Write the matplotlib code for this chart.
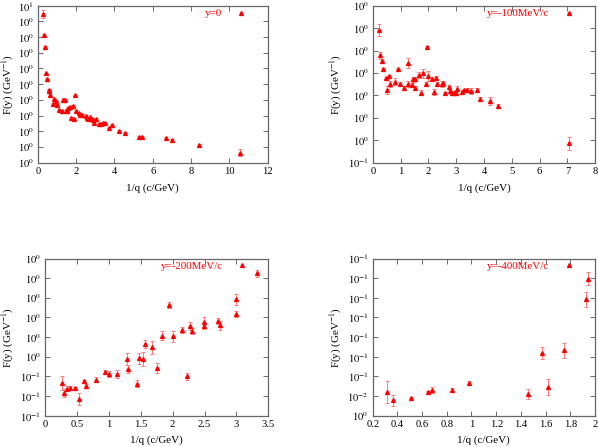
import matplotlib
matplotlib.use("Agg")
import matplotlib.pyplot as plt
from matplotlib.lines import Line2D

plt.rcParams['font.family'] = ['Liberation Serif', 'DejaVu Serif']
plt.rcParams['mathtext.fontset'] = 'stix'

# ---------------- data ----------------
# panel 1 : y=0
x1 = [0.29, 0.32, 0.36, 0.45, 0.48, 0.57, 0.60, 0.65, 0.79, 0.86, 0.93, 0.99, 1.12, 1.26, 1.30,
      1.40, 1.45, 1.50, 1.55, 1.59, 1.66, 1.73, 1.82, 1.91, 1.93, 2.01, 2.13, 2.22, 2.29, 2.50,
      2.55, 2.60, 2.74, 2.81, 2.86, 2.95, 3.04, 3.21, 3.30, 3.40, 3.53, 3.72, 3.87, 4.24, 4.54,
      5.30, 5.42, 6.71, 7.02, 8.43, 10.57]
y1 = [9.47, 8.13, 7.35, 5.69, 5.35, 4.63, 4.55, 4.31, 3.76, 4.08, 3.95, 3.69, 3.36, 3.27, 3.99,
      4.00, 3.30, 3.38, 3.27, 3.51, 3.52, 2.85, 3.61, 2.81, 4.29, 3.30, 3.14, 3.07, 3.07, 2.97,
      2.85, 2.77, 2.89, 2.78, 2.72, 2.54, 2.77, 2.47, 2.47, 2.55, 2.51, 2.23, 2.42, 2.04, 1.91,
      1.64, 1.64, 1.59, 1.42, 1.11, 0.64]
e1 = [0.27, 0.05, 0.08, 0.05, 0.04, 0.06, 0.12, 0.08, 0.05, 0.06, 0.05, 0.05, 0.05, 0.06, 0.15,
      0.06, 0.06, 0.05, 0.06, 0.05, 0.05, 0.05, 0.06, 0.04, 0.05, 0.05, 0.05, 0.06, 0.05, 0.05,
      0.05, 0.04, 0.05, 0.04, 0.04, 0.04, 0.05, 0.04, 0.04, 0.04, 0.04, 0.04, 0.04, 0.04, 0.04,
      0.04, 0.04, 0.05, 0.07, 0.07, 0.23]

# panel 2 : y=-100MeV/c
x2 = [0.235, 0.27, 0.32, 0.38, 0.46, 0.52, 0.58, 0.62, 0.79, 0.91, 0.97, 1.11, 1.28, 1.28, 1.42,
      1.45, 1.51, 1.53, 1.66, 1.73, 1.82, 1.90, 1.94, 2.00, 2.14, 2.21, 2.27, 2.31, 2.49, 2.52,
      2.60, 2.74, 2.77, 2.86, 2.93, 2.99, 3.03, 3.22, 3.29, 3.40, 3.53, 3.74, 3.85, 4.22, 4.50,
      7.06]
y2 = [3.46, 2.89, 2.76, 2.59, 2.39, 2.12, 2.43, 2.25, 2.31, 2.59, 2.25, 2.17, 2.73, 2.25, 2.23,
      2.36, 2.16, 2.37, 2.46, 2.06, 2.49, 2.25, 3.07, 2.43, 2.36, 2.07, 2.39, 2.26, 2.26, 2.27,
      2.05, 2.19, 2.09, 2.06, 2.06, 2.06, 2.15, 2.08, 2.11, 2.12, 2.10, 2.12, 1.93, 1.88, 1.76,
      0.93]
e2 = [0.14, 0.075, 0.045, 0.03, 0.03, 0.09, 0.03, 0.07, 0.07, 0.03, 0.045, 0.05, 0.11, 0.07, 0.05,
      0.05, 0.05, 0.05, 0.07, 0.05, 0.11, 0.05, 0.04, 0.11, 0.04, 0.07, 0.04, 0.04, 0.07, 0.05,
      0.03, 0.05, 0.04, 0.04, 0.04, 0.04, 0.06, 0.04, 0.04, 0.04, 0.07, 0.05, 0.04, 0.09, 0.05,
      0.14]

# panel 3 : y=-200MeV/c
x3 = [0.26, 0.30, 0.34, 0.39, 0.475, 0.54, 0.61, 0.65, 0.80, 0.94, 1.00, 1.13, 1.29, 1.30, 1.44,
      1.47, 1.53, 1.56, 1.67, 1.75, 1.83, 1.95, 2.00, 2.15, 2.22, 2.27, 2.30, 2.49, 2.49, 2.71,
      2.74, 2.99, 3.00, 3.33]
y3 = [0.667, 0.544, 0.595, 0.60, 0.60, 0.467, 0.69, 0.63, 0.71, 0.81, 0.78, 0.78, 0.97, 0.85, 0.66,
      0.98, 0.97, 1.16, 1.12, 0.86, 1.27, 1.655, 1.26, 1.34, 0.75, 1.39, 1.33, 1.44, 1.39, 1.455,
      1.40, 1.544, 1.73, 2.06]
e3 = [0.095, 0.05, 0.03, 0.025, 0.015, 0.075, 0.02, 0.03, 0.03, 0.025, 0.04, 0.05, 0.08, 0.05, 0.04,
      0.07, 0.09, 0.05, 0.08, 0.06, 0.06, 0.04, 0.07, 0.04, 0.05, 0.05, 0.04, 0.07, 0.04, 0.04,
      0.06, 0.04, 0.07, 0.045]

# panel 4 : y=-400MeV/c
x4 = [0.316, 0.364, 0.507, 0.647, 0.682, 0.839, 0.979, 1.459, 1.567, 1.621, 1.753, 1.926, 1.944]
y4 = [0.0605, 0.039, 0.045, 0.060, 0.066, 0.066, 0.084, 0.056, 0.160, 0.073, 0.1665, 0.296, 0.349]
e4 = [0.028, 0.0135, 0.003, 0.003, 0.0075, 0.005, 0.005, 0.0127, 0.015, 0.02, 0.019, 0.019, 0.016]

labels = ["y=0", "y=-100MeV/c", "y=-200MeV/c", "y=-400MeV/c"]

xticks = [[0, 2, 4, 6, 8, 10, 12],
          [0, 1, 2, 3, 4, 5, 6, 7, 8],
          [0, 0.5, 1, 1.5, 2, 2.5, 3, 3.5],
          [0.2, 0.4, 0.6, 0.8, 1.0, 1.2, 1.4, 1.6, 1.8, 2.0]]
xticklabels = [["0", "2", "4", "6", "8", "10", "12"],
               ["0", "1", "2", "3", "4", "5", "6", "7", "8"],
               ["0", "0.5", "1", "1.5", "2", "2.5", "3", "3.5"],
               ["0.2", "0.4", "0.6", "0.8", "1", "1.2", "1.4", "1.6", "1.8", "2"]]
yticks = [[0, 1, 2, 3, 4, 5, 6, 7, 8, 9, 10],
          [0.5, 1.0, 1.5, 2.0, 2.5, 3.0, 3.5, 4.0],
          [0.25, 0.5, 0.75, 1.0, 1.25, 1.5, 1.75, 2.0, 2.25],
          [0, 0.05, 0.1, 0.15, 0.2, 0.25, 0.3, 0.35, 0.4]]
yexp = [["0", "0", "0", "0", "0", "0", "0", "0", "0", "0", "1"],
        ["-1", "0", "0", "0", "0", "0", "0", "0"],
        ["-1", "-1", "-1", "0", "0", "0", "0", "0", "0"],
        ["0", "-2", "-1", "-1", "-1", "-1", "-1", "-1", "-1"]]

datasets = [(x1, y1, e1), (x2, y2, e2), (x3, y3, e3), (x4, y4, e4)]

# ---------------- layout ----------------
W, H = 598, 447
fig = plt.figure(figsize=(W / 100, H / 100), dpi=100)
boxes = [(37.8, 267.6, 5.7, 162.7),
         (372.8, 595.2, 5.7, 162.7),
         (45.0, 268.3, 258.5, 415.8),
         (372.7, 595.0, 258.5, 415.8)]
ylab_x = [8.0, 336.0, 8.0, 336.0]
xlab_y = [188.0, 188.0, 440.5, 440.5]

fs = 7.6
ms = 2.8
for i, (l, r, t, b) in enumerate(boxes):
    ax = fig.add_axes([l / W, (H - b) / H, (r - l) / W, (b - t) / H])
    aw, ah = r - l, b - t
    x, y, e = datasets[i]
    ax.errorbar(x, y, yerr=e, fmt='none', ecolor='#ff7a7a', elinewidth=0.7,
                capsize=1.5, capthick=0.7, zorder=2)
    ax.plot(x, y, linestyle='none', marker='^', color='red', ms=ms, zorder=3)

    ax.set_xlim(xticks[i][0], xticks[i][-1])
    ax.set_ylim(yticks[i][0], yticks[i][-1])
    ax.set_xticks(xticks[i])
    ax.set_xticklabels(xticklabels[i])
    ax.set_yticks(yticks[i])
    ax.set_yticklabels([r"$10^{%s}$" % s for s in yexp[i]])
    ax.tick_params(direction='in', top=True, right=True, length=3.5, width=0.6,
                   labelsize=fs, color='#555555', pad=3)
    for s in ax.spines.values():
        s.set_color('#666666')
        s.set_linewidth(0.9)
    ax.set_xlabel("1/q (c/GeV)", fontsize=fs + 0.3)
    ax.set_ylabel(r"F(y) (GeV$^{-1}$)", fontsize=fs + 0.3)
    ax.yaxis.set_label_coords((ylab_x[i] - l) / aw, 0.5)
    ax.xaxis.set_label_coords(0.5, -(xlab_y[i] - b) / ah)
    ax.xaxis.label.set_va('center')
    ax.yaxis.label.set_va('center')

    h = Line2D([], [], linestyle='none', marker='^', color='red', ms=ms)
    ax.legend([h], [labels[i]], loc='upper right', frameon=False, markerfirst=False,
              labelcolor='red', fontsize=fs + 0.3, handlelength=1.0, handletextpad=1.25,
              borderpad=0, borderaxespad=0,
              bbox_to_anchor=(1 - 21 / aw, 1 - 3 / ah))

fig.savefig("out.png", dpi=100)
